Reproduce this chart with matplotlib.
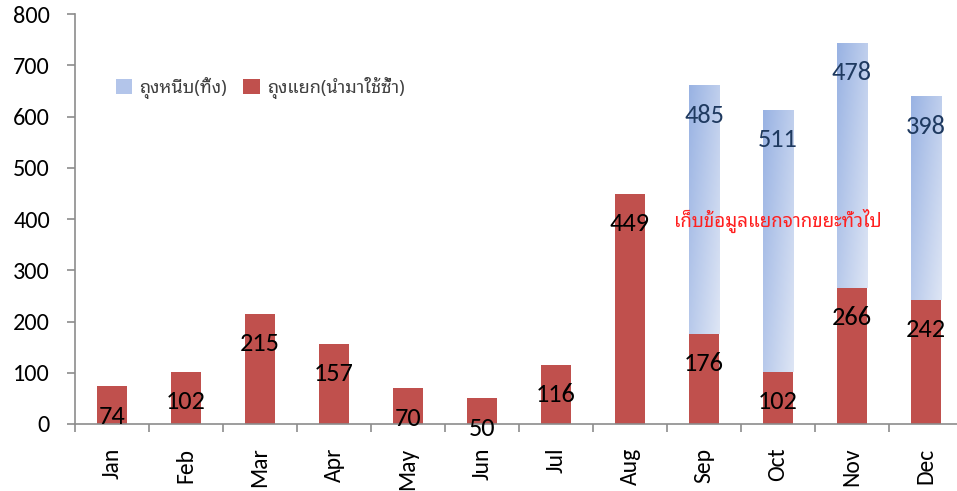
import matplotlib
matplotlib.use("Agg")
import matplotlib.pyplot as plt
import numpy as np
from matplotlib.patches import Patch

months = ["Jan", "Feb", "Mar", "Apr", "May", "Jun", "Jul", "Aug", "Sep", "Oct", "Nov", "Dec"]
separated = [74, 102, 215, 157, 70, 50, 116, 449, 176, 102, 266, 242]
clipped = [0, 0, 0, 0, 0, 0, 0, 0, 485, 511, 478, 398]
series_names = ["ถุงหนีบ(ทิ้ง)", "ถุงแยก(นำมาใช้ซ้ำ)"]
note_text = "เก็บข้อมูลแยกจากขยะทั่วไป"
yticks = [0, 100, 200, 300, 400, 500, 600, 700, 800]

FAM = ["Carlito", "Noto Sans Thai Looped", "DejaVu Sans"]
THAI = ["Noto Sans Thai Looped", "DejaVu Sans"]
plt.rcParams['font.family'] = FAM

RED = "#c0504d"
c_dark = np.array([0.60, 0.70, 0.89])
c_light = np.array([0.87, 0.90, 0.96])

fig = plt.figure(figsize=(9.57, 4.91), dpi=100)
W, H = 957, 491
ax = fig.add_axes([75 / W, (H - 424) / H, 888 / W, (424 - 14) / H])

x = np.arange(len(months))
bw = 0.41
ax.bar(x, separated, width=bw, color=RED, zorder=2)

# gradient bars for clipped series
nx, ny = 40, 80
u = np.linspace(0, 1, nx)[None, :]
v = np.linspace(0, 1, ny)[:, None]
t = np.clip(0.55 * u + 0.45 * v, 0, 1)
img = c_dark[None, None, :] * (1 - t[..., None]) + c_light[None, None, :] * t[..., None]
for i, (b, c) in enumerate(zip(separated, clipped)):
    if c <= 0:
        continue
    bars = ax.bar(i, c, bottom=b, width=bw, color="none", zorder=1)
    rect = bars[0]
    im = ax.imshow(img, extent=[i - bw / 2, i + bw / 2, b, b + c], origin="upper",
                   aspect="auto", zorder=1, interpolation="bilinear")
    im.set_clip_path(rect)

ax.set_xlim(-0.5, 11.5)
ax.set_ylim(0, 800)
ax.set_yticks(yticks)
ax.set_yticklabels([str(v) for v in yticks], fontsize=17.5)
ax.set_xticks(x)
ax.set_xticklabels(months, rotation=90, fontsize=17)
ax.set_xticks(np.arange(-0.5, 12, 1), minor=True)
ax.tick_params(axis='x', which='major', length=0, pad=17)
ax.tick_params(axis='x', which='minor', length=6, width=1.2, color="#8c8c8c", direction='out')
ax.tick_params(axis='y', length=6, width=1.2, color="#8c8c8c", direction='out', pad=12)
for s in ["top", "right"]:
    ax.spines[s].set_visible(False)
for s in ["left", "bottom"]:
    ax.spines[s].set_color("#8c8c8c")
    ax.spines[s].set_linewidth(1.2)

off = -30 * 0.72
for i, b in enumerate(separated):
    ax.annotate(str(b), xy=(i, b), xytext=(0, off), textcoords="offset points",
                ha="center", va="center", fontsize=19, color="black", zorder=5)
for i, (b, c) in enumerate(zip(separated, clipped)):
    if c > 0:
        ax.annotate(str(c), xy=(i, b + c), xytext=(0, off), textcoords="offset points",
                    ha="center", va="center", fontsize=19, color="#1f3a60", zorder=5)

ax.text(9.0, 396, note_text, ha="center", va="center", fontsize=13.5, color="#ff2020",
        zorder=6, family=THAI)

handles = [Patch(facecolor="#b3c5ea", edgecolor="none"), Patch(facecolor=RED, edgecolor="none")]
leg = ax.legend(handles, series_names, ncol=2, frameon=False, loc="upper left",
                bbox_to_anchor=(0.028, 0.887), handlelength=0.9, handleheight=0.9,
                handletextpad=0.4, columnspacing=0.9,
                prop={"family": THAI, "size": 13})
for tx in leg.get_texts():
    tx.set_color("#404040")

fig.savefig("out.png", dpi=100)
